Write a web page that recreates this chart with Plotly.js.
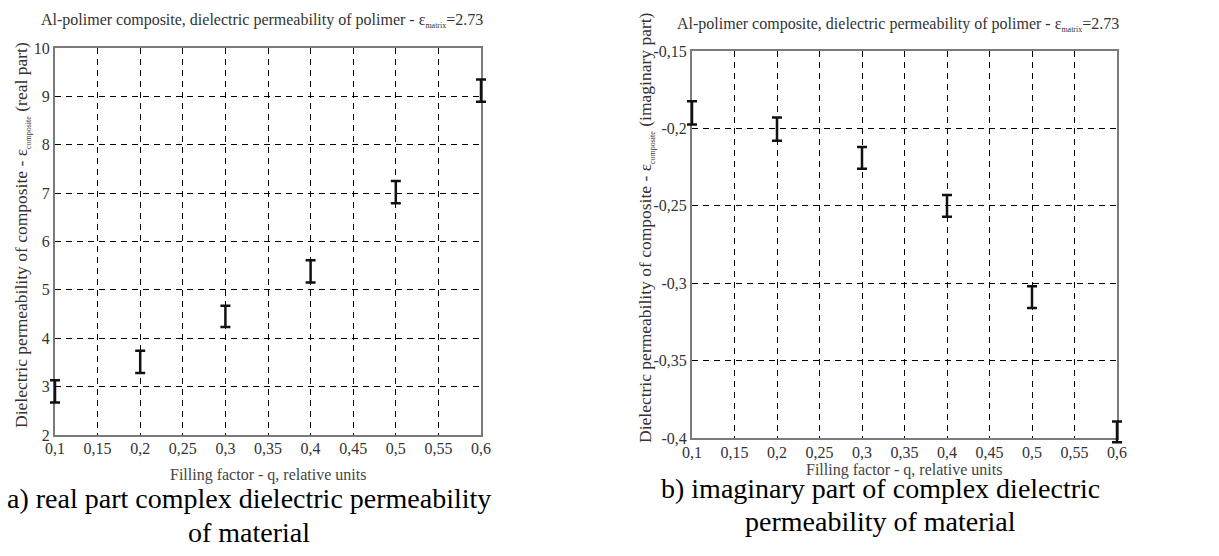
<!DOCTYPE html>
<html>
<head>
<meta charset="utf-8">
<script src="https://cdn.plot.ly/plotly-3.0.1.min.js"></script>
<style>html,body{margin:0;padding:0;background:#fff;}#chart{width:1219px;height:556px;}</style>
</head>
<body>
<div id="chart"></div>
<script>
// Data
const fillingFactor = [0.1, 0.2, 0.3, 0.4, 0.5, 0.6];
const realPart = [2.90, 3.51, 4.45, 5.38, 7.02, 9.12];
const realErr = [0.23, 0.23, 0.22, 0.23, 0.23, 0.23];
const imagPart = [-0.190, -0.2005, -0.219, -0.250, -0.309, -0.396];
const imagErr = [0.0075, 0.0075, 0.007, 0.007, 0.007, 0.0067];

const xTickVals = [0.1, 0.15, 0.2, 0.25, 0.3, 0.35, 0.4, 0.45, 0.5, 0.55, 0.6];
const xTickText = ["0,1", "0,15", "0,2", "0,25", "0,3", "0,35", "0,4", "0,45", "0,5", "0,55", "0,6"];
const realTickVals = [2, 3, 4, 5, 6, 7, 8, 9, 10];
const realTickText = ["2", "3", "4", "5", "6", "7", "8", "9", "10"];
const imagTickVals = [-0.4, -0.35, -0.3, -0.25, -0.2, -0.15];
const imagTickText = ["-0,4", "-0,35", "-0,3", "-0,25", "-0,2", "-0,15"];

const FONT = "Liberation Serif";
const W = 1219, H = 556;
const px = v => v / W;
const py = v => 1 - v / H;

// plot boxes in pixels [left, right, top, bottom]
const boxA = [55, 481, 48, 435];
const boxB = [692, 1117, 51, 438];
const PAD = 12;

function padded(box, xr, yr) {
  const kx = (xr[1] - xr[0]) / (box[1] - box[0]);
  const ky = (yr[1] - yr[0]) / (box[3] - box[2]);
  return {
    xd: [px(box[0] - PAD), px(box[1] + PAD)],
    yd: [py(box[3] + PAD), py(box[2] - PAD)],
    xr: [xr[0] - PAD * kx, xr[1] + PAD * kx],
    yr: [yr[0] - PAD * ky, yr[1] + PAD * ky]
  };
}

function errTrace(x, y, e, xa, ya) {
  return {
    x: x, y: y, xaxis: xa, yaxis: ya, type: 'scatter', mode: 'markers',
    marker: {size: 1, color: 'rgba(0,0,0,0)'},
    cliponaxis: false, hoverinfo: 'skip', showlegend: false,
    error_y: {type: 'data', array: e, visible: true, color: '#111', thickness: 2.5, width: 5}
  };
}
function ghostTrace(x, y, xa, ya) {
  return {
    x: x, y: y, xaxis: xa, yaxis: ya, type: 'scatter', mode: 'markers',
    marker: {size: 1, color: 'rgba(0,0,0,0)'}, hoverinfo: 'skip', showlegend: false
  };
}

const data = [
  ghostTrace(fillingFactor, realPart, 'x', 'y'),
  ghostTrace(fillingFactor, imagPart, 'x2', 'y2'),
  ghostTrace(fillingFactor, realPart, 'x5', 'y'),
  ghostTrace(fillingFactor, imagPart, 'x6', 'y2'),
  errTrace(fillingFactor, realPart, realErr, 'x3', 'y3'),
  errTrace(fillingFactor, imagPart, imagErr, 'x4', 'y4')
];

const axX = (box, anchor) => ({
  domain: [px(box[0]), px(box[1])], anchor: anchor, range: [0.1, 0.6],
  tickvals: xTickVals, ticktext: xTickText, ticks: '', showticklabels: false,
  showgrid: true, gridcolor: '#000', gridwidth: 1, griddash: '6px,5px',
  showline: true, mirror: true, linecolor: '#7a7a7a', linewidth: 2,
  zeroline: false
});
// tick-label-only x axis, placed just below the plot's bottom edge
const axXLabels = (box, over, shift) => ({
  domain: [px(box[0]), px(box[1])], anchor: 'free', overlaying: over,
  position: py(box[3] + shift), range: [0.1, 0.6],
  tickvals: xTickVals, ticktext: xTickText, ticks: '',
  showgrid: false, showline: false, zeroline: false,
  tickfont: {family: FONT, size: 16, color: '#333'}
});
const axY = (box, anchor, range, tv, tt) => ({
  domain: [py(box[3]), py(box[2])], anchor: anchor, range: range,
  tickvals: tv, ticktext: tt, ticks: '',
  showgrid: true, gridcolor: '#000', gridwidth: 1, griddash: '6px,5px',
  showline: true, mirror: true, linecolor: '#7a7a7a', linewidth: 2,
  zeroline: false, tickfont: {family: FONT, size: 16, color: '#333'}
});
const hid = (domain, range, anchor) => ({
  domain: domain, range: range, anchor: anchor, visible: false,
  showgrid: false, zeroline: false, showline: false, showticklabels: false
});

const pa = padded(boxA, [0.1, 0.6], [2, 10]);
const pb = padded(boxB, [0.1, 0.6], [-0.4, -0.15]);

const sub = s => '<span style="font-size:8px">' + s + '</span>';
const titleText = 'Al-polimer composite, dielectric permeability of polimer - ε<sub>' + sub('matrix') + '</sub>=2.73';

function ann(text, x, y, size, color, angle) {
  return {text: text, x: px(x), y: py(y), xref: 'paper', yref: 'paper', showarrow: false,
    xanchor: 'center', yanchor: 'middle', textangle: angle || 0,
    font: {family: FONT, size: size, color: color}};
}

const layout = {
  width: W, height: H,
  margin: {l: 0, r: 0, t: 0, b: 0},
  paper_bgcolor: '#fff', plot_bgcolor: 'rgba(0,0,0,0)',
  showlegend: false,
  xaxis: axX(boxA, 'y'),
  yaxis: axY(boxA, 'x', [2, 10], realTickVals, realTickText),
  xaxis2: axX(boxB, 'y2'),
  yaxis2: axY(boxB, 'x2', [-0.4, -0.15], imagTickVals, imagTickText),
  xaxis3: hid(pa.xd, pa.xr, 'y3'),
  yaxis3: hid(pa.yd, pa.yr, 'x3'),
  xaxis4: hid(pb.xd, pb.xr, 'y4'),
  yaxis4: hid(pb.yd, pb.yr, 'x4'),
  xaxis5: axXLabels(boxA, 'x', 2),
  xaxis6: axXLabels(boxB, 'x2', 3),
  annotations: [
    ann(titleText, 262, 21, 16, '#333'),
    ann(titleText, 898, 25, 16, '#333'),
    ann('Dielectric permeability of composite - ε<sub>' + sub('composite') + '</sub> (real part)', 22, 235, 17.5, '#333', -90),
    ann('Dielectric permeability of composite - ε<sub>' + sub('composite') + '</sub> (imaginary part)', 646, 228, 17.5, '#333', -90),
    ann('Filling factor - q, relative units', 268, 475, 16, '#444'),
    ann('Filling factor - q, relative units', 904, 470, 16, '#444'),
    ann('a) real part complex dielectric permeability', 249, 498, 28, '#000'),
    ann('of material', 249, 532, 28, '#000'),
    ann('b) imaginary part of complex dielectric', 880, 488, 28, '#000'),
    ann('permeability of material', 880, 521, 28, '#000')
  ]
};

Plotly.newPlot('chart', data, layout, {staticPlot: true, displayModeBar: false});
</script>
</body>
</html>
